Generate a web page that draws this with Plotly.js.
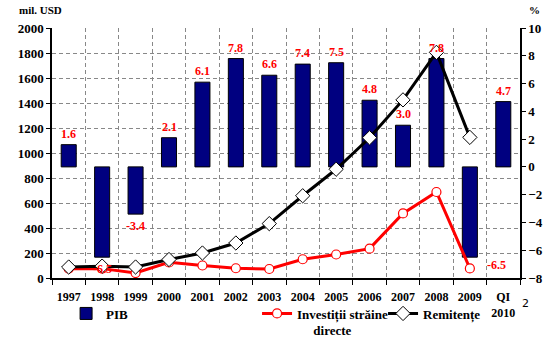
<!DOCTYPE html>
<html><head><meta charset="utf-8">
<script src="https://cdn.plot.ly/plotly-3.0.1.min.js"></script>
<style>html,body{margin:0;padding:0;background:#fff}#c{width:560px;height:352px}</style>
</head><body><div id="c"></div>
<script>
const categories = ['1997','1998','1999','2000','2001','2002','2003','2004','2005','2006','2007','2008','2009','QI<br>2010'];
const pib = [1.6,-6.5,-3.4,2.1,6.1,7.8,6.6,7.4,7.5,4.8,3.0,7.8,-6.5,4.7];
const fdi = [75,75,40,125,100,78,72,150,188,235,517,688,77,null];
const remit = [88,95,88,148,200,280,435,658,870,1122,1425,1805,1125,null];
const leftTicks = [0,200,400,600,800,1000,1200,1400,1600,1800,2000];
const rightTicks = [-8,-6,-4,-2,0,2,4,6,8,10];

const F = 'Liberation Serif, Times New Roman, serif';
const traces = [
  {type:'bar', name:'PIB', x:categories, y:pib, yaxis:'y', xaxis:'x',
   marker:{color:'#000080', line:{color:'#000', width:1}}, legend:'legend', hoverinfo:'skip'},
  {type:'scatter', mode:'lines+markers', name:'Investiții străine<br>\u00a0\u00a0\u00a0\u00a0\u00a0directe', x:categories, y:fdi, yaxis:'y2',
   line:{color:'#ff0000', width:3}, marker:{symbol:'circle', size:9, color:'#fff', line:{color:'#ff0000', width:1.2}},
   legend:'legend2', connectgaps:false},
  {type:'scatter', mode:'lines+markers', name:'Remitențe', x:categories, y:remit, yaxis:'y2',
   line:{color:'#000', width:3}, marker:{symbol:'diamond', size:11, color:'#fff', line:{color:'#000', width:1}},
   legend:'legend3', connectgaps:false}
];

const annotations = pib.map((v,i)=>{
  const last = (i===12);
  return {x:i, y:v, xref:'x', yref:'y', text:v.toFixed(1), showarrow:false,
    font:{family:F, size:12, color:'#ff0000', weight:'bold'},
    yshift: last ? -8 : (v>=0 ? 11 : -12), xshift: last ? 27 : 0};
});
annotations.push({xref:'paper', yref:'paper', x:-0.075, y:1.07, xanchor:'left', yanchor:'middle', showarrow:false,
  text:'mil. USD', font:{family:F, size:11, color:'#000', weight:'bold'}});
annotations.push({xref:'paper', yref:'paper', x:1.015, y:1.07, xanchor:'left', yanchor:'middle', showarrow:false,
  text:'%', font:{family:F, size:11, color:'#000', weight:'bold'}});
annotations.push({xref:'paper', yref:'paper', x:1.0, y:-0.1, xanchor:'left', yanchor:'middle', showarrow:false,
  text:'2', font:{family:'DejaVu Sans', size:11, color:'#000'}});

const legBase = {orientation:'h', xref:'container', yref:'container', yanchor:'top', y:0.152, xanchor:'left',
  bgcolor:'rgba(0,0,0,0)', font:{family:F, size:13, color:'#000', weight:'bold'}, valign:'top'};

const layout = {
  width:560, height:352,
  margin:{l:52, r:40, t:28, b:74},
  paper_bgcolor:'#fff', plot_bgcolor:'#fff',
  bargap:0.55,
  showlegend:true,
  font:{family:F, color:'#000'},
  xaxis:{type:'category', range:[-0.5,13.5], tickson:'boundaries', showgrid:true, gridcolor:'#888', griddash:'4px,3px', gridwidth:1,
    showline:true, linecolor:'#000', linewidth:1.5, ticks:'outside', ticklen:5, tickcolor:'#000', tickangle:0,
    ticklabelstandoff:7, automargin:false,
    tickfont:{family:F, size:12, color:'#000', weight:'bold'}},
  yaxis:{side:'right', range:[-8,10], tickvals:rightTicks, showgrid:false, zeroline:false, automargin:false,
    showline:true, linecolor:'#000', linewidth:1.5, ticks:'outside', ticklen:4, tickcolor:'#000',
    tickfont:{family:F, size:13, color:'#000', weight:'bold'}},
  yaxis2:{overlaying:'y', side:'left', range:[0,2000], tickvals:leftTicks, showgrid:true, gridcolor:'#888', griddash:'4px,3px',
    zeroline:false, showline:true, linecolor:'#000', linewidth:1.5, ticks:'outside', ticklen:4, tickcolor:'#000', automargin:false,
    tickfont:{family:F, size:13, color:'#000', weight:'bold'}},
  legend: Object.assign({}, legBase, {x:0.118}),
  legend2: Object.assign({}, legBase, {x:0.459}),
  legend3: Object.assign({}, legBase, {x:0.684}),
  annotations: annotations
};
Plotly.newPlot('c', traces, layout, {displayModeBar:false});
</script></body></html>
